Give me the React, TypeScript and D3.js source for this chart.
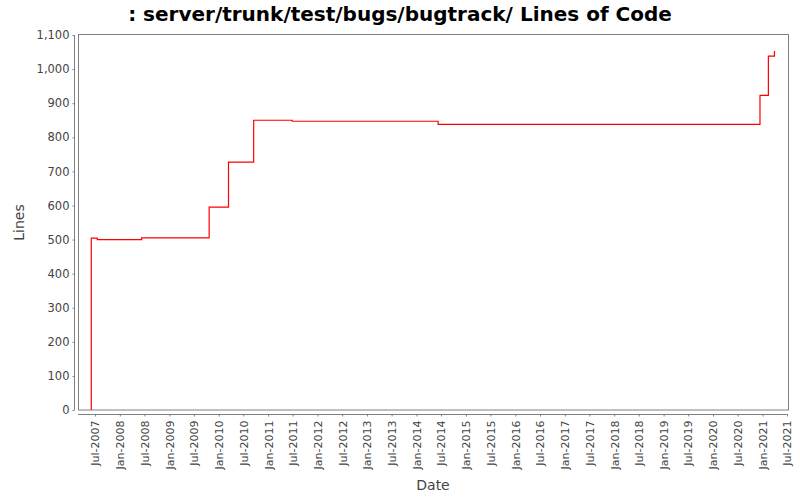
import React, { useEffect, useRef } from "react";
import * as d3 from "d3";

// commit dates and line counts
const commitDates = [
    "2007-06-04", "2007-06-04", "2007-07-18", "2008-06-10", "2009-10-22", "2010-03-14",
    "2010-09-16", "2011-06-28", "2014-06-10", "2020-12-13", "2021-02-13", "2021-03-30"
];
const lineCounts = [0, 504, 500, 505, 595, 727, 850, 847, 838, 923, 1038, 1053];

const yTicks = [0, 100, 200, 300, 400, 500, 600, 700, 800, 900, 1000, 1100];
const xTickLabels = [
    "Jul-2007", "Jan-2008", "Jul-2008", "Jan-2009", "Jul-2009", "Jan-2010", "Jul-2010",
    "Jan-2011", "Jul-2011", "Jan-2012", "Jul-2012", "Jan-2013", "Jul-2013", "Jan-2014",
    "Jul-2014", "Jan-2015", "Jul-2015", "Jan-2016", "Jul-2016", "Jan-2017", "Jul-2017",
    "Jan-2018", "Jul-2018", "Jan-2019", "Jul-2019", "Jan-2020", "Jul-2020", "Jan-2021", "Jul-2021"
];

const title = ": server/trunk/test/bugs/bugtrack/ Lines of Code";

const App: React.FC = () => {
    const svgRef = useRef<SVGSVGElement>(null);

    useEffect(() => {
        if (!svgRef.current) return;

        const width = 800;
        const height = 500;
        const plot = { left: 78, right: 788, top: 35, bottom: 410 };
        const font = "'DejaVu Sans', sans-serif";
        const axisColor = "#808080";
        const labelColor = "#444444";

        const svg = d3.select(svgRef.current);
        svg.selectAll("*").remove();
        svg.attr("width", width).attr("height", height);

        svg.append("rect")
            .attr("width", width)
            .attr("height", height)
            .attr("fill", "#ffffff");

        const parse = d3.timeParse("%Y-%m-%d");
        const parseTick = d3.timeParse("%b-%Y");
        const data = commitDates.map((d, i) => ({ date: parse(d) as Date, value: lineCounts[i] }));

        const x = d3.scaleTime()
            .domain([new Date(2007, 1, 26), new Date(2021, 6, 8)])
            .range([plot.left, plot.right]);

        const y = d3.scaleLinear()
            .domain([0, 1100])
            .range([plot.bottom, plot.top]);

        // title
        svg.append("text")
            .attr("x", width / 2)
            .attr("y", 21)
            .attr("text-anchor", "middle")
            .attr("font-family", font)
            .attr("font-weight", "bold")
            .attr("font-size", 20)
            .attr("fill", "#000")
            .text(title);

        // plot box
        svg.append("rect")
            .attr("x", plot.left + 0.5)
            .attr("y", plot.top - 0.5)
            .attr("width", plot.right - plot.left)
            .attr("height", plot.bottom - plot.top + 0.5)
            .attr("fill", "#ffffff")
            .attr("stroke", axisColor)
            .attr("stroke-width", 1);

        // y axis, offset from the plot box
        const yAxis = svg.append("g")
            .attr("transform", `translate(${plot.left - 3.5},0)`)
            .call(d3.axisLeft(y).tickValues(yTicks).tickFormat(d3.format(",")).tickSize(2).tickPadding(3));
        yAxis.select(".domain").attr("stroke", axisColor).attr("d", `M-0,${plot.top}V${plot.bottom}`);
        yAxis.selectAll(".tick line").attr("stroke", axisColor);
        yAxis.selectAll(".tick text")
            .attr("fill", labelColor)
            .attr("font-family", font)
            .attr("font-size", 11.5);

        // x axis, offset below the plot box
        const xTickDates = xTickLabels.map(t => parseTick(t) as Date);
        const xAxis = svg.append("g")
            .attr("transform", `translate(0,${plot.bottom + 4.5})`)
            .call(d3.axisBottom(x).tickValues(xTickDates).tickFormat(d3.timeFormat("%b-%Y") as any).tickSize(2).tickPadding(3));
        xAxis.select(".domain").attr("stroke", axisColor).attr("d", `M${plot.left},0H${plot.right}`);
        xAxis.selectAll(".tick line").attr("stroke", axisColor);
        xAxis.selectAll(".tick text")
            .attr("fill", labelColor)
            .attr("font-family", font)
            .attr("font-size", 11)
            .attr("transform", "rotate(-90)")
            .attr("text-anchor", "end")
            .attr("x", -6)
            .attr("y", 0)
            .attr("dy", "0.35em");

        // axis labels
        svg.append("text")
            .attr("x", (plot.left + plot.right) / 2)
            .attr("y", 490)
            .attr("text-anchor", "middle")
            .attr("font-family", font)
            .attr("font-size", 14)
            .attr("fill", labelColor)
            .text("Date");

        svg.append("text")
            .attr("transform", `translate(24,${(plot.top + plot.bottom) / 2}) rotate(-90)`)
            .attr("text-anchor", "middle")
            .attr("font-family", font)
            .attr("font-size", 14)
            .attr("fill", labelColor)
            .text("Lines");

        // step line
        const line = d3.line<{ date: Date; value: number }>()
            .x(d => x(d.date))
            .y(d => y(d.value))
            .curve(d3.curveStepAfter);

        svg.append("path")
            .datum(data)
            .attr("fill", "none")
            .attr("stroke", "#ff0000")
            .attr("stroke-width", 1.2)
            .attr("d", line);
    }, []);

    return (
        <svg
            ref={svgRef}
            style={{ position: "absolute", top: 0, left: 0, display: "block" }}
        ></svg>
    );
};

export default App;
